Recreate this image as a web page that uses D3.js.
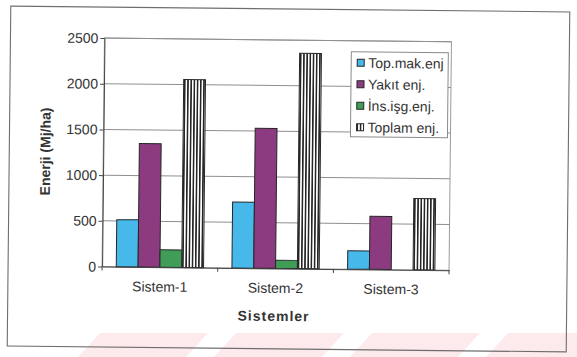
<!DOCTYPE html>
<html>
<head>
<meta charset="utf-8">
<script src="https://cdn.jsdelivr.net/npm/d3@7"></script>
<style>
  html, body { margin: 0; padding: 0; background: #fff; }
  svg { display: block; font-family: "Liberation Sans", Arial, Helvetica, sans-serif; }
</style>
</head>
<body>
<svg id="chart" width="577" height="357"></svg>
<script>
// Energy inputs per system (MJ/ha)
const categories = ["Sistem-1", "Sistem-2", "Sistem-3"];
const seriesNames = ["Top.mak.enj", "Yakıt enj.", "İns.işg.enj.", "Toplam enj."];
const topMakEnj = [515, 720, 200];
const yakitEnj  = [1350, 1530, 580];
const insIsgEnj = [190, 90, 0];
const toplamEnj = [2055, 2355, 780];
const yTicks = [0, 500, 1000, 1500, 2000, 2500];
const yTitle = "Enerji (Mj/ha)";
const xTitle = "Sistemler";

const seriesValues = [topMakEnj, yakitEnj, insIsgEnj, toplamEnj];
const fills = ["#46b8ea", "#8c3b80", "#3f9d57", "url(#vstripes)"];
const textColor = "#343434";

const plot = { left: 103, right: 450, top: 40, bottom: 268.5 };

const svg = d3.select("#chart");
const defs = svg.append("defs");

// dark vertical hatch used by the total bars
const pat = defs.append("pattern")
  .attr("id", "vstripes")
  .attr("patternUnits", "userSpaceOnUse")
  .attr("width", 3.2).attr("height", 10);
pat.append("rect").attr("width", 3.2).attr("height", 10).attr("fill", "#fff");
pat.append("rect").attr("width", 1.6).attr("height", 10).attr("fill", "#262626");

svg.append("rect").attr("width", 577).attr("height", 357).attr("fill", "#fff");

// faint pink diagonal bands along the bottom of the page
const wm = svg.append("g").attr("fill", "#fdeaed");
d3.range(4).forEach(i => {
  const x0 = 100 + i * 136;
  wm.append("path")
    .attr("d", `M${x0},333 L${x0 + 108},333 L${x0 + 86},357 L${x0 - 22},357 Z`);
});

const g = svg.append("g").attr("transform", "rotate(0.6, 288, 179)");

// outer chart frame
g.append("rect")
  .attr("x", 9).attr("y", 9).attr("width", 559).attr("height", 340)
  .attr("fill", "none").attr("stroke", "#6e6e6e").attr("stroke-width", 1.1);

const x0 = d3.scaleBand().domain(categories).range([plot.left, plot.right]).padding(0);
const x1 = d3.scaleBand().domain(seriesNames).range([0, x0.bandwidth()])
  .paddingInner(0).paddingOuter(0.65);
const y = d3.scaleLinear().domain([0, 2500]).range([plot.bottom, plot.top]);

// plot area border and gridlines
g.append("rect")
  .attr("x", plot.left).attr("y", plot.top)
  .attr("width", plot.right - plot.left).attr("height", plot.bottom - plot.top)
  .attr("fill", "none").attr("stroke", "#9a9a9a").attr("stroke-width", 1);

g.append("g").selectAll("line")
  .data(yTicks.filter(t => t > 0))
  .join("line")
  .attr("x1", plot.left).attr("x2", plot.right)
  .attr("y1", d => y(d)).attr("y2", d => y(d))
  .attr("stroke", "#8f8f8f").attr("stroke-width", 1);

// bars
const groups = g.append("g").selectAll("g")
  .data(categories)
  .join("g")
  .attr("transform", d => `translate(${x0(d)},0)`);

groups.selectAll("rect")
  .data((c, ci) => seriesNames.map((s, si) => ({ s, si, v: seriesValues[si][ci] })).filter(d => d.v > 0))
  .join("rect")
  .attr("x", d => x1(d.s))
  .attr("width", x1.bandwidth())
  .attr("y", d => y(d.v))
  .attr("height", d => y(0) - y(d.v))
  .attr("fill", d => fills[d.si])
  .attr("stroke", "#262626")
  .attr("stroke-width", 1);

// y axis
const yAxis = g.append("g")
  .attr("transform", `translate(${plot.left},0)`)
  .call(d3.axisLeft(y).tickValues(yTicks).tickFormat(d3.format("d"))
    .tickSize(4).tickPadding(2).tickSizeOuter(0));
yAxis.select(".domain").attr("stroke", "#444");
yAxis.selectAll(".tick line").attr("stroke", "#444");
yAxis.selectAll("text")
  .attr("font-size", 14).attr("fill", textColor)
  .attr("font-family", "Liberation Sans, Arial, sans-serif");

// x axis
const xAxis = g.append("g")
  .attr("transform", `translate(0,${plot.bottom})`)
  .call(d3.axisBottom(x0).tickSize(0).tickSizeOuter(0));
xAxis.select(".domain").attr("stroke", "#444");
xAxis.selectAll("text")
  .attr("y", 24.5).attr("dy", null)
  .attr("font-size", 14).attr("fill", textColor)
  .attr("font-family", "Liberation Sans, Arial, sans-serif");

const bounds = categories.map(c => x0(c)).concat([x0(categories[categories.length - 1]) + x0.bandwidth()]);
xAxis.append("g").selectAll("line")
  .data(bounds)
  .join("line")
  .attr("x1", d => d).attr("x2", d => d)
  .attr("y1", 0).attr("y2", 4)
  .attr("stroke", "#444");

// axis titles
g.append("text")
  .attr("transform", "translate(50,154) rotate(-90)")
  .attr("text-anchor", "middle")
  .attr("font-size", 14).attr("font-weight", "bold")
  .attr("fill", textColor)
  .text(yTitle);

g.append("text")
  .attr("x", 275).attr("y", 321)
  .attr("text-anchor", "middle")
  .attr("font-size", 14).attr("font-weight", "bold")
  .attr("letter-spacing", 1)
  .attr("fill", textColor)
  .text(xTitle);

// legend
const legend = g.append("g");
legend.append("rect")
  .attr("x", 350).attr("y", 51).attr("width", 97).attr("height", 85)
  .attr("fill", "#fff").attr("stroke", "#8a8a8a").attr("stroke-width", 1);

const rowY = d3.scalePoint().domain(seriesNames).range([62, 126.5]);
const items = legend.selectAll("g.item")
  .data(seriesNames)
  .join("g")
  .attr("class", "item")
  .attr("transform", d => `translate(356,${rowY(d)})`);
items.append("rect")
  .attr("x", 0).attr("y", -3.5).attr("width", 7).attr("height", 7)
  .attr("fill", (d, i) => fills[i])
  .attr("stroke", "#262626").attr("stroke-width", 1);
items.append("text")
  .attr("x", 11).attr("y", 5)
  .attr("font-size", 14).attr("fill", textColor)
  .text(d => d);
</script>
</body>
</html>
